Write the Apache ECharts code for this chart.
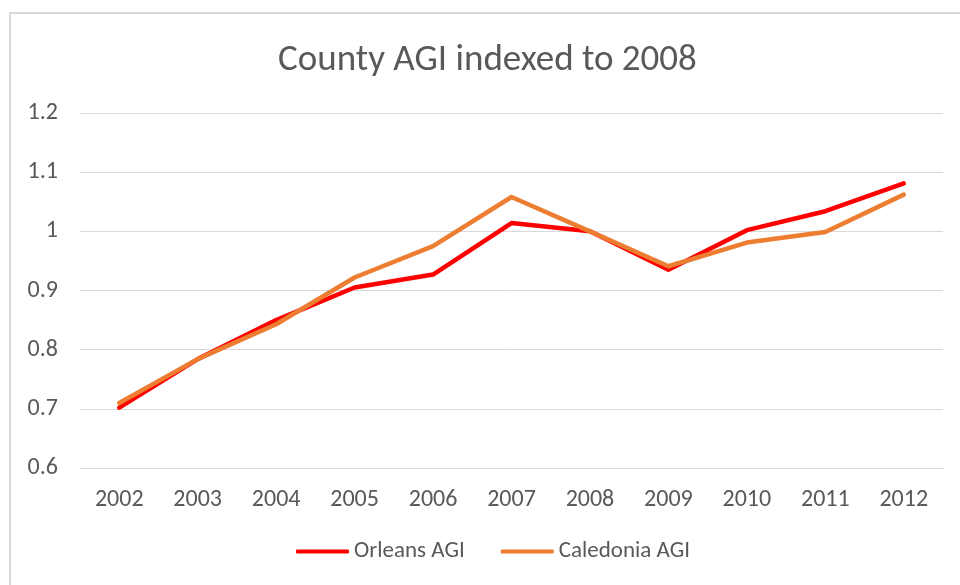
<!DOCTYPE html>
<html>
<head>
    <meta charset="utf-8">
    <title>County AGI indexed to 2008</title>
    <script src="https://cdn.jsdelivr.net/npm/echarts@6/dist/echarts.min.js"></script>
    <style>
        html, body { margin: 0; padding: 0; background: #fff; }
        #main { width: 960px; height: 585px; }
    </style>
</head>
<body>
<div id="main"></div>
<script type="text/javascript">
    // 数据
    var years = ['2002', '2003', '2004', '2005', '2006', '2007', '2008', '2009', '2010', '2011', '2012'];
    var orleansAgi = [0.702, 0.784, 0.850, 0.905, 0.927, 1.014, 1.0, 0.935, 1.002, 1.034, 1.081];
    var caledoniaAgi = [0.710, 0.784, 0.843, 0.922, 0.975, 1.058, 1.0, 0.941, 0.981, 0.999, 1.062];

    var font = 'Carlito, Lato, sans-serif';
    var textGray = '#595959';

    var myChart = echarts.init(document.getElementById('main'));

    var option = {
        animation: false,
        graphic: [
            {
                type: 'rect',
                shape: {x: 10, y: 13, width: 1000, height: 1000},
                style: {fill: 'none', stroke: '#d9d9d9', lineWidth: 2},
                silent: true
            }
        ],
        title: {
            text: 'County AGI indexed to 2008',
            left: 278,
            top: 42,
            padding: 0,
            textStyle: {
                fontFamily: font,
                fontSize: 37,
                fontWeight: 'normal',
                color: textGray
            }
        },
        legend: {
            data: ['Orleans AGI', 'Caledonia AGI'],
            bottom: 22,
            left: 296,
            padding: 0,
            itemWidth: 53,
            itemHeight: 4,
            itemGap: 36,
            icon: 'roundRect',
            textStyle: {fontFamily: font, fontSize: 23, color: textGray}
        },
        grid: {left: 80, right: 17, top: 113, bottom: 117},
        xAxis: {
            type: 'category',
            data: years,
            boundaryGap: true,
            axisLine: {show: true, lineStyle: {color: '#d9d9d9', width: 1}},
            axisTick: {show: false},
            axisLabel: {fontFamily: font, fontSize: 24, color: textGray, margin: 20}
        },
        yAxis: {
            type: 'value',
            min: 0.6,
            max: 1.2,
            interval: 0.1,
            axisLine: {show: false},
            axisTick: {show: false},
            splitLine: {lineStyle: {color: '#d9d9d9', width: 1}},
            axisLabel: {
                fontFamily: font, fontSize: 24, color: textGray, margin: 22,
                formatter: function (v) { return String(Math.round(v * 10) / 10); }
            }
        },
        series: [
            {
                name: 'Orleans AGI',
                type: 'line',
                data: orleansAgi,
                color: '#ff0000',
                showSymbol: false,
                lineStyle: {width: 4.5, cap: 'round', join: 'round'}
            },
            {
                name: 'Caledonia AGI',
                type: 'line',
                data: caledoniaAgi,
                color: '#ed7d31',
                showSymbol: false,
                lineStyle: {width: 4.5, cap: 'round', join: 'round'}
            }
        ]
    };

    myChart.setOption(option);
</script>
</body>
</html>
